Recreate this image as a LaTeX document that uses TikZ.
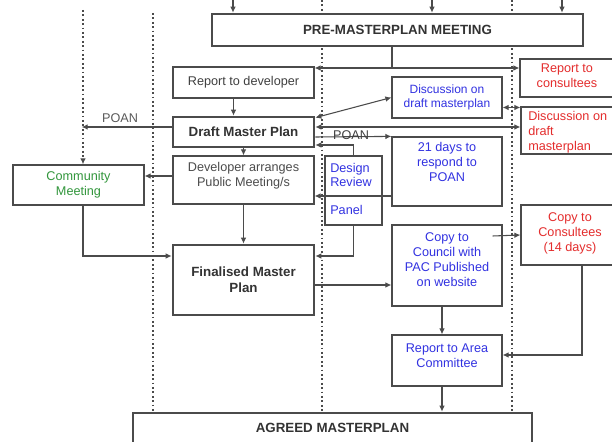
\documentclass[tikz,border=0pt]{standalone}
\usepackage{fontspec}
\setmainfont{Liberation Sans}
\usetikzlibrary{arrows.meta,calc}
\definecolor{bluet}{RGB}{50,50,225}
\definecolor{redt}{RGB}{228,45,45}
\definecolor{greent}{RGB}{50,150,60}
\definecolor{edge}{RGB}{75,75,75}
\newdimen\pxu \pxu=0.75pt
\pgfdeclarelayer{background}
\pgfsetlayers{background,main}
\begin{document}
\begin{tikzpicture}[x=0.75pt,y=-0.75pt,
  font=\fontsize{9.5}{11.2}\selectfont,
  box/.style={draw=edge, line width=0.9pt, fill=white, inner sep=0pt, align=center},
  thickbox/.style={draw=edge, line width=2pt, fill=white, inner sep=0pt, align=center,
    font=\fontsize{10}{12}\selectfont\bfseries, text=black!80},
  txt/.style={inner sep=0pt, align=center},
  conn/.style={draw=edge, line width=0.8pt},
  tip/.tip={Latex[length=4.5pt,width=4.2pt]},
  arr/.style={conn, -tip},
  barr/.style={conn, tip-tip},
  dotline/.style={draw=edge, line width=1.3pt, dash pattern=on 1.3pt off 2pt},
]
\useasboundingbox (0,0) rectangle (612,442);
\clip (0,0) rectangle (612,442);

% boxes
\node[thickbox, minimum width=371\pxu, minimum height=32\pxu] (pre) at (397.5,30) {PRE-MASTERPLAN MEETING};
\node[box, text=black!75, minimum width=141\pxu, minimum height=31\pxu] (rep) at (243.5,82.5) {Report to developer};
\node[thickbox, minimum width=141\pxu, minimum height=30\pxu] (draft) at (243.5,132) {Draft Master Plan};
\node[box, minimum width=141\pxu, minimum height=48\pxu] (dev) at (243.5,180) {};
\node[txt, text=black!70] (devt) at (243.5,176) {Developer arranges\\Public Meeting/s};
\node[thickbox, minimum width=141\pxu, minimum height=70\pxu] (fin) at (243.5,280) {Finalised Master\\Plan};
\node[box, text=greent, minimum width=131\pxu, minimum height=40\pxu] (comm) at (78.5,185) {Community\\Meeting};

\node[box, text=bluet, font=\fontsize{9}{11}\selectfont, minimum width=110\pxu, minimum height=41\pxu] (disc) at (447,97.5) {Discussion on\\draft masterplan};
\node[box, minimum width=110\pxu, minimum height=69\pxu] (days) at (447,171.5) {};
\node[txt, text=bluet] (dayst) at (447,162) {21 days to\\respond to\\POAN};
\node[box, minimum width=57\pxu, minimum height=69\pxu] (dr) at (353.5,190.5) {};
\node[txt, text=bluet, align=left, anchor=west] (drt) at (330,175) {Design\\Review};
\node[txt, text=bluet, anchor=west] (drp) at (330,210) {Panel};
\node[box, minimum width=110\pxu, minimum height=81\pxu] (council) at (447,265.5) {};
\node[txt, text=bluet] (councilt) at (447,260) {Copy to\\Council with\\PAC Published\\on website};
\node[box, minimum width=110\pxu, minimum height=51\pxu] (area) at (447,360.5) {};
\node[txt, text=bluet] (areat) at (447,355.5) {Report to Area\\Committee};

\node[box, minimum width=105\pxu, minimum height=38\pxu] (repcons) at (572.5,78) {};
\node[txt, text=redt] (repconst) at (567,76) {Report to\\consultees};
\node[box, minimum width=104\pxu, minimum height=47\pxu] (rdisc) at (573,130.5) {};
\node[txt, text=redt, align=left, anchor=west] (rdisct) at (528,132.5) {Discussion on\\draft\\masterplan};
\node[box, minimum width=104\pxu, minimum height=60\pxu] (copycons) at (573,235) {};
\node[txt, text=redt] (copyconst) at (570,233) {Copy to\\Consultees\\(14 days)};

\node[thickbox, minimum width=399\pxu, minimum height=52\pxu] (agreed) at (332.5,439) {};
\node[txt, font=\fontsize{10}{12}\selectfont\bfseries, text=black!80] (agreedt) at (332.5,428) {AGREED MASTERPLAN};

% dotted guide lines
\coordinate (d1) at (83,10);
\coordinate (d2) at (153,13);
\coordinate (d3) at (322,0);
\coordinate (d4) at (512,0);
\begin{pgfonlayer}{background}
\draw[dotline] (d2) -- (d2 |- agreed.north);
\draw[dotline] (d3) -- (d3 |- agreed.north);
\draw[dotline] (d4) -- (d4 |- agreed.north);
\end{pgfonlayer}
\draw[dotline, -tip] (d1) -- (d1 |- comm.north);

% top arrows
\coordinate (t1) at (233,0);
\coordinate (t2) at (432,0);
\coordinate (t3) at (562,0);
\draw[arr] (t1) -- (t1 |- pre.north);
\draw[arr] (t2) -- (t2 |- pre.north);
\draw[arr] (t3) -- (t3 |- pre.north);

% pre-masterplan outputs
\coordinate (p1) at (392,68);
\draw[conn] (p1 |- pre.south) -- (p1);
\draw[barr] (rep.east |- p1) -- (repcons.west |- p1);

% left column
\draw[arr] ($(rep.south)+(-10,0)$) -- ($(draft.north)+(-10,0)$);
\draw[arr] (draft.south) -- (dev.north);
\draw[arr] (dev.south) -- (fin.north);
\draw[arr] ($(draft.west)+(0,-5)$) -- ($(draft.west)+(-90,-5)$) coordinate (poanend);
\node[txt, text=black!65] (poanl) at (120,118) {POAN};
\draw[arr] ($(dev.west)+(0,-4)$) -- ($(comm.east)+(0,-9)$);
\draw[arr] ($(comm.south)+(4.5,0)$) |- ($(fin.west)+(0,-24)$);

% draft plan links
\draw[barr] ($(draft.north east)+(0,2)$) -- (disc.west);
\draw[barr] ($(draft.east)+(0,-5)$) -- ($(rdisc.west)+(0,-3.5)$);
\draw[arr] ($(draft.east)+(0,5)$) -- (days.north west);
\node[txt, text=black!75] (poanr) at (351,135.5) {POAN};
\draw[barr] ($(disc.east)+(0,10)$) -- ($(rdisc.west)+(0,-23)$);
\draw[arr] (dr.north) |- ($(draft.east)+(0,13)$);
\draw[arr] ($(days.west)+(0,24.5)$) -- ($(dev.east)+(0,16)$);
\draw[arr] (dr.south) |- ($(fin.east)+(0,-24)$);

% right side
\draw[arr] ($(fin.east)+(0,5)$) -- ($(council.west)+(0,19.5)$);
\draw[arr] ($(council.east)+(-10,-29.5)$) -- (copycons.west);
\coordinate (c1) at ($(council.south)+(-5,0)$);
\draw[arr] (c1) -- (c1 |- area.north);
\draw[arr] ($(copycons.south)+(9,0)$) |- ($(area.east)+(0,-5.5)$);
\coordinate (a1) at ($(area.south)+(-5,0)$);
\draw[arr] (a1) -- (a1 |- agreed.north);
\end{tikzpicture}
\end{document}
